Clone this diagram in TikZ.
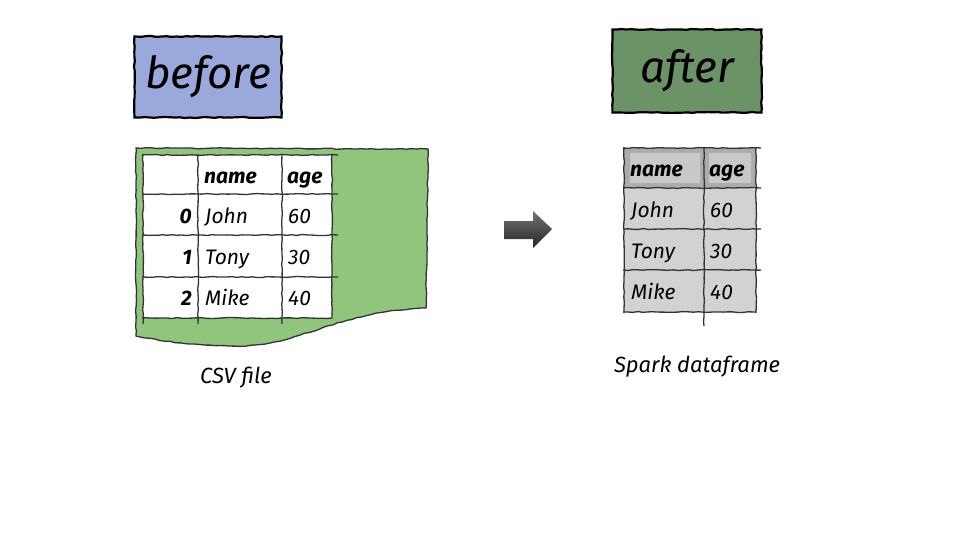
\documentclass[tikz,border=0pt]{standalone}
\usepackage{fontspec}
\setmainfont{Fira Sans}
\usetikzlibrary{positioning,decorations.pathmorphing}

\definecolor{beforeblue}{RGB}{155,168,220}
\definecolor{aftergreen}{RGB}{107,147,103}
\definecolor{csvgreen}{RGB}{145,196,125}

\begin{document}
\begin{tikzpicture}[
  x=1pt, y=-1pt,
  sketch/.style={decorate, decoration={random steps, segment length=5pt, amplitude=0.5pt}},
  title/.style={draw, line width=2.2pt, sketch, minimum width=147pt, minimum height=81pt,
                inner sep=0pt, font=\fontsize{44}{44}\selectfont\itshape},
  grid/.style={draw=black!80, line width=1.3pt, sketch},
  cell/.style={inner sep=0pt, font=\fontsize{21}{21}\selectfont\itshape},
  head/.style={cell, font=\fontsize{21}{21}\selectfont\bfseries\itshape},
  caption/.style={font=\fontsize{22}{22}\selectfont\itshape},
]
  \useasboundingbox (0,0) rectangle (960,540);

  % titles
  \node[title, fill=beforeblue] (before) at (208,77) {before};
  \node[title, fill=aftergreen, minimum width=149pt, minimum height=83pt] (after) at (687,71) {after};

  % csv file
  \path[fill=csvgreen, grid] (136,148) -- (428,149) -- (426,308)
    .. controls (330,312) and (300,348) .. (230,346)
    .. controls (185,345) and (155,340) .. (136,336) -- cycle;
  \fill[white] (143,155) rectangle (332,318);
  \foreach \yy in {155,194,235,277}
    \draw[grid] (142,\yy) -- (338,\yy);
  \draw[grid] (142,318) -- (332,318);
  \foreach \xx in {143,198,282}
    \draw[grid] (\xx,154) -- (\xx,324);
  \draw[grid] (332,154) -- (332,318);

  \node[head, anchor=base west] (csv-name) at (204,183) {name};
  \node[head, anchor=base west] (csv-age) at (287,183) {age};
  \foreach \nm/\ag/\yy [count=\i from 0] in {John/60/223, Tony/30/264, Mike/40/305} {
    \node[head, anchor=base east] (csv-idx\i) at (192,\yy) {\i};
    \node[cell, anchor=base west] (csv-name\i) at (205,\yy) {\nm};
    \node[cell, anchor=base west] (csv-age\i) at (288,\yy) {\ag};
  }
  \node[caption] (csv) at (236,378) {CSV file};

  % arrow
  \coordinate (conv) at (528,229);
  \shade[top color=black!55, bottom color=black!85]
    (504,221) -- (533,221) -- (533,211) -- (552,229) -- (533,248) -- (533,239)
    -- (504,239) -- cycle;

  % spark dataframe
  \fill[gray!35] (624,148) rectangle (756,312);
  \fill[gray!65] (624,148) rectangle (756,188);
  \fill[gray!42] (630,153) rectangle (700,183);
  \fill[gray!42] (709,153) rectangle (751,183);
  \foreach \yy in {148,188,229,270}
    \draw[grid] (623,\yy) -- (761,\yy);
  \draw[grid] (623,312) -- (756,312);
  \draw[grid] (624,147) -- (624,313);
  \draw[grid] (704,147) -- (704,326);
  \draw[grid] (756,147) -- (756,313);

  \node[head, anchor=base west] (df-name) at (630,177) {name};
  \node[head, anchor=base west] (df-age) at (709,177) {age};
  \foreach \nm/\ag/\yy [count=\i from 0] in {John/60/217, Tony/30/258, Mike/40/299} {
    \node[cell, anchor=base west] (df-name\i) at (631,\yy) {\nm};
    \node[cell, anchor=base west] (df-age\i) at (710,\yy) {\ag};
  }
  \node[caption] (df) at (697,367) {Spark dataframe};
\end{tikzpicture}
\end{document}
